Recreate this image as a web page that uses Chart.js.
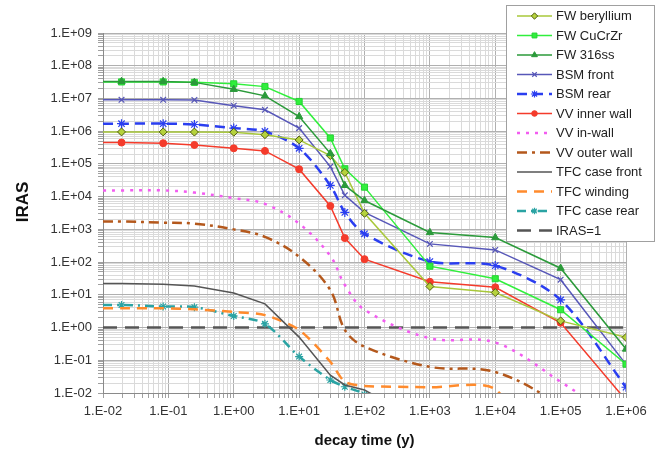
<!DOCTYPE html>
<html>
<head>
<meta charset="utf-8">
<title>IRAS vs decay time</title>
<script src="https://cdn.jsdelivr.net/npm/chart.js@4.4.1/dist/chart.umd.min.js"></script>
<style>
  html, body { margin: 0; padding: 0; background: #fff; }
  #irasChart { display: block; }
</style>
</head>
<body>
<canvas id="irasChart" width="661" height="464"></canvas>
<script>
// --- Data (IRAS vs decay time in years) ---
const decayTimes = [0.01, 0.0192, 0.0833, 0.25, 1, 3, 10, 30, 50, 100, 1000, 1e4, 1e5, 1e6];

const fwBeryllium  = [9.5e5, 9.5e5, 9.5e5, 9.4e5, 9.3e5, 7.8e5, 5.4e5, 1.8e5, 5.5e4, 3.1e3, 18, 11.7, 1.6, 0.5];
const fwCuCrZr     = [3.2e7, 3.2e7, 3.2e7, 3.1e7, 2.8e7, 2.3e7, 8.1e6, 6.2e5, 7.1e4, 1.95e4, 75, 31, 3.5, 0.076];
const fw316ss      = [3.3e7, 3.3e7, 3.3e7, 3.1e7, 1.9e7, 1.2e7, 2.8e6, 2.1e5, 2.2e4, 7.6e3, 800, 560, 65, 0.22];
const bsmFront     = [9.1e6, 9.1e6, 9.1e6, 9.0e6, 6.0e6, 4.5e6, 1.24e6, 8.3e4, 1.1e4, 3.3e3, 360, 236, 29, 0.075];
const bsmRear      = [1.7e6, 1.7e6, 1.7e6, 1.6e6, 1.24e6, 9.8e5, 3.0e5, 2.2e4, 3.3e3, 730, 104, 78, 7, 0.015];
const vvInnerWall  = [4.5e5, 4.5e5, 4.3e5, 3.8e5, 3.0e5, 2.5e5, 6.9e4, 5.2e3, 540, 123, 25, 17, 1.4, 0.006];
const vvInWall     = [1.55e4, 1.55e4, 1.55e4, 1.33e4, 9e3, 6e3, 1.5e3, 155, 20, 3.5, 0.47, 0.35, 0.022, 0.001];
const vvOuterWall  = [1.74e3, 1.74e3, 1.6e3, 1.5e3, 1e3, 590, 146, 14, 0.85, 0.26, 0.063, 0.044, 0.004, 1e-4];
const tfcCaseFront = [22, 22, 21, 18.7, 11.4, 5.3, 0.51, 0.035, 0.0176, 0.0123, 0.001, null, null, null];
const tfcWinding   = [3.9, 3.9, 3.9, 3.6, 3.0, 2.4, 0.85, 0.09, 0.022, 0.0164, 0.015, 0.013, 1e-5, null];
const tfcCaseRear  = [4.9, 4.9, 4.4, 4.2, 2.25, 1.3, 0.13, 0.025, 0.0155, 0.009, 1e-4, null, null, null];

const irasLimitTimes  = [0.01, 1e6];
const irasLimitValues = [1, 1];

const xTickLabels = ['1.E-02', '1.E-01', '1.E+00', '1.E+01', '1.E+02', '1.E+03', '1.E+04', '1.E+05', '1.E+06'];
const yTickLabels = ['1.E-02', '1.E-01', '1.E+00', '1.E+01', '1.E+02', '1.E+03',
                     '1.E+04', '1.E+05', '1.E+06', '1.E+07', '1.E+08', '1.E+09'];

const xAxisTitle = 'decay time (y)';
const yAxisTitle = 'IRAS';

const FONT = '"Liberation Sans", Arial, Helvetica, sans-serif';


// --- Helpers ---
function toPoints(values, times) {
    const t = times || decayTimes;
    return values.map((v, i) => ({ x: t[i], y: v }));
}

// 1..9 x 10^e for every decade, so minor grid lines match the spreadsheet look
function logTicks(minExp, maxExp) {
    const ticks = [];
    for (let e = minExp; e < maxExp; e++) {
        for (let m = 1; m <= 9; m++) {
            ticks.push({ value: parseFloat((m * Math.pow(10, e)).toPrecision(6)), major: m === 1 });
        }
    }
    ticks.push({ value: Math.pow(10, maxExp), major: true });
    return ticks;
}

// first point sits on the y axis with no marker
function markerRadius(size) {
    return ctx => (ctx.dataIndex === 0 ? 0 : size);
}

function decadeLabel(labels, minExp) {
    return function (value, index, ticks) {
        if (!ticks[index].major) return '';
        return labels[Math.round(Math.log10(value)) - minExp];
    };
}


// --- Datasets ---
// NOTE: FW 316ss gets order -1 so its triangles sit on top of the CuCrZr squares
const datasets = [
    { label: 'FW beryllium', data: toPoints(fwBeryllium), borderColor: '#a8c83a', borderWidth: 1.5,
      pointStyle: 'rectRot', markerSize: 4, pointRadius: markerRadius(4),
      pointBackgroundColor: '#b5d23c', pointBorderColor: '#4f5c12', pointBorderWidth: 1 },
    { label: 'FW CuCrZr', data: toPoints(fwCuCrZr), borderColor: '#30ef3c', borderWidth: 1.5,
      pointStyle: 'rect', markerSize: 4.3, pointRadius: markerRadius(4.3),
      pointBackgroundColor: '#30ef3c', pointBorderColor: '#24d232', pointBorderWidth: 1 },
    { label: 'FW 316ss', data: toPoints(fw316ss), borderColor: '#2b9a3a', borderWidth: 1.5, order: -1,
      pointStyle: 'triangle', markerSize: 4.2, pointRadius: markerRadius(4.2),
      pointBackgroundColor: '#2b9a3a', pointBorderColor: '#2b9a3a', pointBorderWidth: 1 },
    { label: 'BSM front', data: toPoints(bsmFront), borderColor: '#5757b8', borderWidth: 1.5,
      pointStyle: 'crossRot', markerSize: 4, pointRadius: markerRadius(4),
      pointBorderColor: '#5757b8', pointBorderWidth: 1.2 },
    { label: 'BSM rear', data: toPoints(bsmRear), borderColor: '#2a3ef0', borderWidth: 2.5, borderDash: [10, 6],
      tension: 0.3, pointStyle: 'star', markerSize: 4.5, pointRadius: markerRadius(4.5),
      pointBorderColor: '#2a3ef0', pointBorderWidth: 1.2 },
    { label: 'VV inner wall', data: toPoints(vvInnerWall), borderColor: '#f43b2b', borderWidth: 1.5,
      pointStyle: 'circle', markerSize: 3.5, pointRadius: markerRadius(3.5),
      pointBackgroundColor: '#f43b2b', pointBorderColor: '#f43b2b', pointBorderWidth: 1 },
    { label: 'VV in-wall', data: toPoints(vvInWall), borderColor: '#f25cf0', borderWidth: 2.5, borderDash: [3, 6],
      tension: 0.35, pointRadius: 0 },
    { label: 'VV outer wall', data: toPoints(vvOuterWall), borderColor: '#b4581c', borderWidth: 2.5,
      borderDash: [10, 5, 3, 5], tension: 0.35, pointRadius: 0 },
    { label: 'TFC case front', data: toPoints(tfcCaseFront), borderColor: '#555555', borderWidth: 1.5,
      pointRadius: 0 },
    { label: 'TFC winding', data: toPoints(tfcWinding), borderColor: '#ff8b2d', borderWidth: 2.5,
      borderDash: [10, 7], tension: 0.25, pointRadius: 0 },
    { label: 'TFC case rear', data: toPoints(tfcCaseRear), borderColor: '#2aa3a3', borderWidth: 2.5,
      borderDash: [9, 5, 2, 5], tension: 0.3, pointStyle: 'star', markerSize: 4, pointRadius: markerRadius(4),
      pointBorderColor: '#2aa3a3', pointBorderWidth: 1.2 },
    { label: 'IRAS=1', data: toPoints(irasLimitValues, irasLimitTimes), borderColor: '#555555', borderWidth: 2.5,
      borderDash: [14, 8], pointRadius: 0 }
];


// --- Plugins: boxed legend inside plot, rotated y title ---
const boxLegendPlugin = {
    id: 'boxLegend',
    afterDraw(chart) {
        const ctx = chart.ctx;
        const left = 506, top = 5, width = 148, height = 236, rowH = 19.5;
        ctx.save();
        ctx.fillStyle = '#ffffff';
        ctx.fillRect(left, top, width, height);
        ctx.strokeStyle = '#a0a0a0';
        ctx.lineWidth = 1;
        ctx.strokeRect(left + 0.5, top + 0.5, width, height);

        chart.data.datasets.forEach((ds, i) => {
            const y = top + 11 + i * rowH;
            ctx.save();
            ctx.strokeStyle = ds.borderColor;
            ctx.lineWidth = ds.borderWidth;
            ctx.setLineDash(ds.borderDash || []);
            ctx.beginPath();
            ctx.moveTo(left + 11, y);
            ctx.lineTo(left + 46, y);
            ctx.stroke();
            ctx.restore();

            // legend markers are a bit smaller than the plot markers
            if (ds.markerSize) {
                ctx.save();
                ctx.fillStyle = ds.pointBackgroundColor || ds.borderColor;
                ctx.strokeStyle = ds.pointBorderColor || ds.borderColor;
                ctx.lineWidth = ds.pointBorderWidth || 1;
                Chart.helpers.drawPoint(ctx, {
                    pointStyle: ds.pointStyle, radius: ds.markerSize * 0.8, rotation: 0,
                    borderWidth: ds.pointBorderWidth || 1
                }, left + 28.5, y);
                ctx.restore();
            }

            ctx.fillStyle = '#222';
            ctx.font = '13px ' + FONT;
            ctx.textAlign = 'left';
            ctx.textBaseline = 'middle';
            ctx.fillText(ds.label, left + 50, y + 0.5);
        });
        ctx.restore();
    }
};

const yTitlePlugin = {
    id: 'yTitle',
    afterDraw(chart) {
        const ctx = chart.ctx;
        ctx.save();
        ctx.translate(23, 202);
        ctx.rotate(-Math.PI / 2);
        ctx.font = 'bold 17px ' + FONT;
        ctx.fillStyle = '#111';
        ctx.textAlign = 'center';
        ctx.textBaseline = 'middle';
        ctx.fillText(yAxisTitle, 0, 0);
        ctx.restore();
    }
};


// --- Chart ---
const gridColor = ctx => (ctx.tick && ctx.tick.major ? '#b0b0b0' : '#dadada');
const tickFont = { family: FONT, size: 13 };

new Chart(document.getElementById('irasChart'), {
    type: 'line',
    data: { datasets },
    options: {
        responsive: false,
        animation: false,
        events: [],
        layout: { padding: { top: 33, right: 35, left: 0, bottom: 0 } },
        plugins: { legend: { display: false }, tooltip: { enabled: false } },
        scales: {
            x: {
                type: 'logarithmic', min: 0.01, max: 1e6,
                afterBuildTicks: s => { s.ticks = logTicks(-2, 6); },
                afterFit: s => { s.height = 71; },
                grid: { color: gridColor, tickColor: '#a0a0a0', tickLength: 5 },
                border: { color: '#8a8a8a' },
                ticks: { autoSkip: false, maxRotation: 0, padding: 6, color: '#333', font: tickFont,
                         callback: decadeLabel(xTickLabels, -2) },
                title: { display: true, text: xAxisTitle, color: '#111',
                         font: { family: FONT, size: 15, weight: 'bold' }, padding: { top: 0, bottom: 14 } }
            },
            y: {
                type: 'logarithmic', min: 0.01, max: 1e9,
                afterBuildTicks: s => { s.ticks = logTicks(-2, 9); },
                afterFit: s => { s.width = 103; },
                grid: { color: gridColor, tickColor: '#a0a0a0', tickLength: 5 },
                border: { color: '#8a8a8a' },
                ticks: { autoSkip: false, padding: 6, color: '#333', font: tickFont,
                         callback: decadeLabel(yTickLabels, -2) }
            }
        }
    },
    plugins: [boxLegendPlugin, yTitlePlugin]
});
</script>
</body>
</html>
